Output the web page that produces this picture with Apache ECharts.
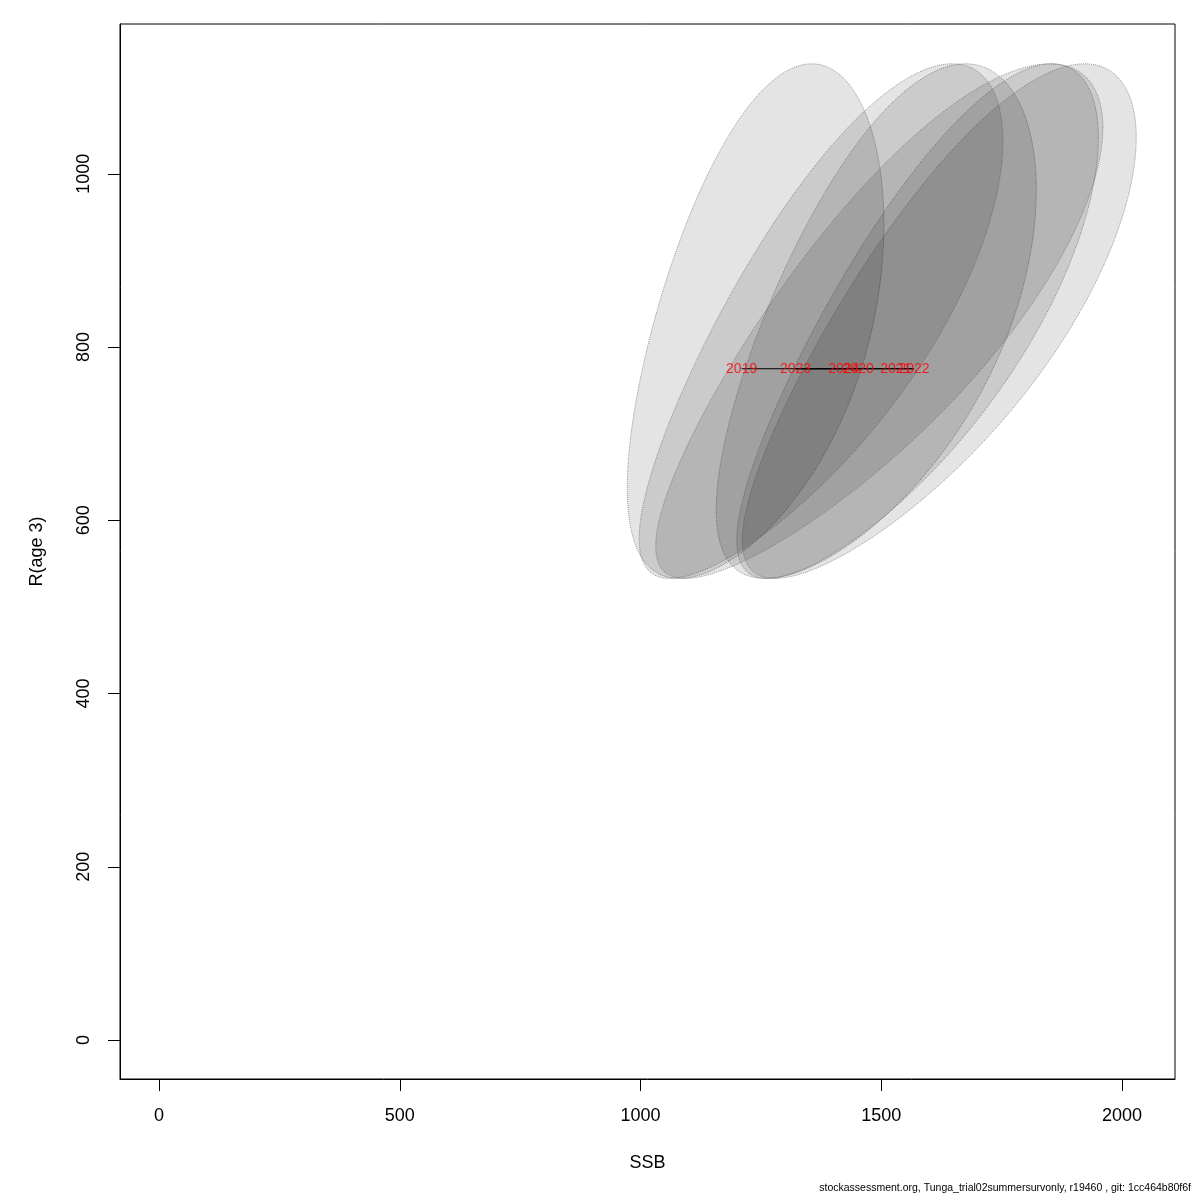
<!DOCTYPE html>
<html>
<head>
<meta charset="utf-8">
<script src="https://cdn.jsdelivr.net/npm/echarts@6/dist/echarts.min.js"></script>
<style>html,body{margin:0;padding:0;background:#fff}#c{width:1200px;height:1200px}</style>
</head>
<body>
<div id="c"></div>
<script>
// Data
const years = [2019, 2020, 2021, 2022, 2023, 2024];
const ssb = [1210, 1452, 1530, 1568, 1322, 1422];          // SSB estimate (ellipse centre, label position)
const rec = [775, 775, 775, 775, 775, 775];                 // R(age 3) estimate
const ssbLogHalf = [0.2185, 0.227, 0.243, 0.258, 0.282, 0.321]; // half-width of ellipse on log scale
const recLogHalf = [0.3745, 0.3745, 0.3745, 0.3745, 0.3745, 0.3745];
const rhoLog = [0.52, 0.63, 0.79, 0.79, 0.78, 0.82];        // correlation on log scale
const xTicks = [0, 500, 1000, 1500, 2000];
const yTicks = [0, 200, 400, 600, 800, 1000];
const footer = 'stockassessment.org, Tunga_trial02summersurvonly, r19460 , git: 1cc464b80f6f';

const FONT = '"Liberation Sans", Arial, Helvetica, sans-serif';
const chart = echarts.init(document.getElementById('c'), null, {renderer: 'canvas'});

const pts = years.map((y, i) => [ssb[i], rec[i], y]);
const traj = years.map((y, i) => [ssb[i], rec[i], y]).sort((a, b) => a[2] - b[2]);

chart.setOption({
  animation: false,
  backgroundColor: '#fff',
  title: {
    text: footer, right: 4, bottom: 1,
    textStyle: {fontSize: 10.5, fontWeight: 'normal', color: '#000', fontFamily: FONT}
  },
  grid: {left: 120, right: 25, top: 24, bottom: 121, show: true, borderColor: '#000', borderWidth: 1, backgroundColor: 'transparent'},
  xAxis: {
    type: 'value', min: -81, max: 2110,
    name: 'SSB', nameLocation: 'middle', nameGap: 75,
    nameTextStyle: {fontSize: 18, color: '#000', fontFamily: FONT},
    axisLine: {show: true, onZero: false, lineStyle: {color: '#000', width: 1}},
    axisTick: {show: true, length: 12, lineStyle: {color: '#000'}, customValues: xTicks},
    axisLabel: {color: '#000', fontSize: 18, margin: 28, fontFamily: FONT, customValues: xTicks, formatter: v => String(v)},
    splitLine: {show: false}
  },
  yAxis: {
    type: 'value', min: -45, max: 1173,
    name: 'R(age 3)', nameLocation: 'middle', nameGap: 74,
    nameTextStyle: {fontSize: 18, color: '#000', fontFamily: FONT},
    axisLine: {show: true, onZero: false, lineStyle: {color: '#000', width: 1}},
    axisTick: {show: true, length: 12, lineStyle: {color: '#000'}, customValues: yTicks},
    axisLabel: {color: '#000', fontSize: 18, margin: 27, rotate: 90, fontFamily: FONT, customValues: yTicks, formatter: v => String(v)},
    splitLine: {show: false}
  },
  series: [
    {
      type: 'custom', z: 1, silent: true,
      data: pts,
      encode: {x: 0, y: 1},
      renderItem: function (params, api) {
        const i = params.dataIndex;
        const mx = Math.log(ssb[i]), my = Math.log(rec[i]);
        const d = Math.acos(rhoLog[i]);
        const poly = [];
        const N = 240;
        for (let k = 0; k < N; k++) {
          const t = 2 * Math.PI * k / N;
          poly.push(api.coord([Math.exp(mx + ssbLogHalf[i] * Math.cos(t)), Math.exp(my + recLogHalf[i] * Math.cos(t - d))]));
        }
        return {
          type: 'polygon',
          shape: {points: poly},
          style: {fill: 'rgba(0,0,0,0.105)', stroke: 'rgba(90,90,90,0.75)', lineWidth: 0.8, lineDash: [1, 1]}
        };
      }
    },
    {
      type: 'line', z: 2, silent: true,
      data: traj.map(p => [p[0], p[1]]),
      symbol: 'none',
      lineStyle: {color: '#000', width: 1}
    },
    {
      type: 'scatter', z: 3, silent: true,
      data: pts,
      symbolSize: 1,
      itemStyle: {color: 'rgba(0,0,0,0)'},
      label: {
        show: true, position: 'inside', color: '#ff0000', fontSize: 14, fontFamily: FONT,
        formatter: p => String(p.value[2])
      }
    }
  ]
});
</script>
</body>
</html>
